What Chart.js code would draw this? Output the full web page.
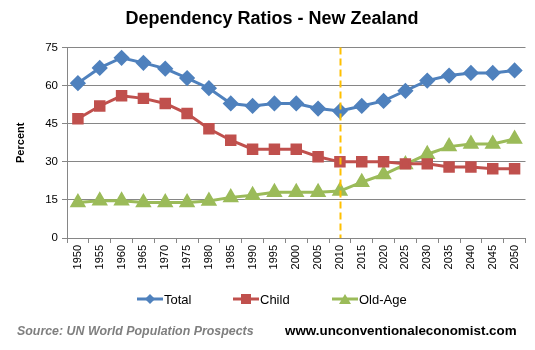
<!DOCTYPE html>
<html>
<head>
<meta charset="utf-8">
<script src="https://cdn.jsdelivr.net/npm/chart.js@4/dist/chart.umd.min.js"></script>
<style>
html,body{margin:0;padding:0;background:#fff;}
#wrap{width:535px;height:350px;position:relative;}
</style>
</head>
<body>
<div id="wrap"><canvas id="c" width="535" height="350"></canvas></div>
<script>
const years = ['1950','1955','1960','1965','1970','1975','1980','1985','1990','1995','2000','2005','2010','2015','2020','2025','2030','2035','2040','2045','2050'];
const totalRatio = [61,67,71,69,66.7,63,59,53,52,53,53,51,50,52,54,58,62,64,65,65,66];
const childRatio = [47,52,56,55,53,49,43,38.5,35,35,35,32,30,30,30,29.2,29.2,28,28,27.3,27.3];
const oldAgeRatio = [14,14.7,14.7,14,14,14,14.6,16,16.8,18,18,18,18.5,22,25,29,33,36,37,37,39];
const yTicks = [0,15,30,45,60,75];
const markerYear = '2010';
const titleText = 'Dependency Ratios - New Zealand';
const sourceText = 'Source: UN World Population Prospects';
const siteText = 'www.unconventionaleconomist.com';

const FONT = "'Liberation Sans', Arial, sans-serif";

function markerImage(color, style){
  const cv = document.createElement('canvas');
  cv.width = 26; cv.height = 12;
  const g = cv.getContext('2d');
  g.strokeStyle = color; g.lineWidth = 3;
  g.beginPath(); g.moveTo(0,6); g.lineTo(26,6); g.stroke();
  g.fillStyle = color;
  g.beginPath();
  if(style==='rectRot'){ g.moveTo(13,1); g.lineTo(18,6); g.lineTo(13,11); g.lineTo(8,6); g.closePath(); }
  else if(style==='rect'){ g.rect(8,1,10,10); }
  else { g.moveTo(13,1); g.lineTo(19,11); g.lineTo(7,11); g.closePath(); }
  g.fill();
  return cv;
}

const extras = {
  id:'extras',
  afterDatasetsDraw(chart){
    const {ctx, chartArea, scales} = chart;
    const x = scales.x.getPixelForValue(years.indexOf(markerYear));
    ctx.save();
    ctx.strokeStyle = '#FFC000';
    ctx.lineWidth = 2;
    ctx.setLineDash([7,4]);
    ctx.beginPath();
    ctx.moveTo(Math.round(x)+0.5, chartArea.top);
    ctx.lineTo(Math.round(x)+0.5, chartArea.bottom);
    ctx.stroke();
    ctx.restore();
  },
  afterDraw(chart){
    const ctx = chart.ctx;
    ctx.save();
    const starts = [137, 233, 332];
    const ly = 299;
    chart.data.datasets.forEach((ds,i)=>{
      const img = markerImage(ds.borderColor, ds.pointStyle);
      ctx.drawImage(img, starts[i], ly-6);
      ctx.fillStyle = '#000';
      ctx.font = '13px ' + FONT;
      ctx.textBaseline = 'middle';
      ctx.textAlign = 'left';
      ctx.fillText(ds.label, starts[i]+27, ly+1);
    });
    ctx.textBaseline = 'alphabetic';
    ctx.font = 'italic bold 12.4px ' + FONT;
    ctx.fillStyle = '#7F7F7F';
    ctx.fillText(sourceText, 17, 335);
    ctx.font = 'bold 13.4px ' + FONT;
    ctx.fillStyle = '#000';
    ctx.fillText(siteText, 285, 335);
    ctx.restore();
  }
};

new Chart(document.getElementById('c'), {
  type:'line',
  data:{
    labels: years,
    datasets:[
      {label:'Total', data: totalRatio, borderColor:'#4F81BD', backgroundColor:'#4F81BD', pointStyle:'rectRot', pointRadius:6, borderWidth:3},
      {label:'Child', data: childRatio, borderColor:'#C0504D', backgroundColor:'#C0504D', pointStyle:'rect', pointRadius:6, borderWidth:3},
      {label:'Old-Age', data: oldAgeRatio, borderColor:'#9BBB59', backgroundColor:'#9BBB59', pointStyle:'triangle', pointRadius:6.5, borderWidth:3}
    ]
  },
  options:{
    responsive:false,
    animation:false,
    events:[],
    layout:{padding:{left:14, right:5, top:4, bottom:77}},
    plugins:{
      legend:{display:false},
      tooltip:{enabled:false},
      title:{display:true, text:titleText, color:'#000', font:{family:FONT, size:18, weight:'bold'}, padding:{top:4, bottom:18}}
    },
    scales:{
      x:{
        offset:true,
        afterFit(s){ s.height = 35; },
        grid:{offset:true, drawOnChartArea:false, color:'#868686', tickLength:5},
        border:{color:'#868686'},
        ticks:{minRotation:90, maxRotation:90, autoSkip:false, color:'#000', font:{family:FONT, size:11}, padding:2}
      },
      y:{
        min:0, max:75,
        afterFit(s){ s.width = 53; },
        afterBuildTicks(s){ s.ticks = yTicks.map(v=>({value:v})); },
        grid:{color:'#868686', tickLength:5},
        border:{color:'#868686'},
        ticks:{color:'#000', font:{family:FONT, size:11.5}, padding:4},
        title:{display:true, text:'Percent', color:'#000', font:{family:FONT, size:11, weight:'bold'}, padding:{top:0,bottom:4}}
      }
    }
  },
  plugins:[extras]
});
</script>
</body>
</html>
